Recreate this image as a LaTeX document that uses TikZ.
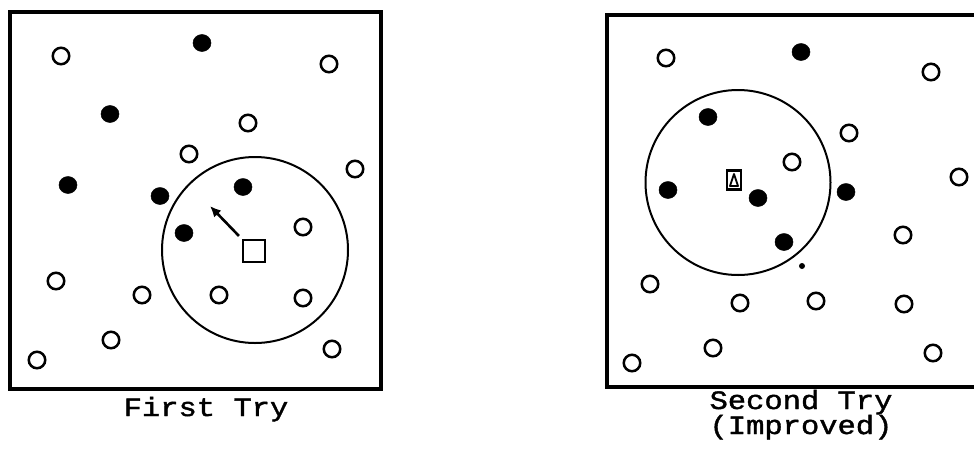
\documentclass[tikz,border=0pt]{standalone}
\usepackage{fontspec}
\newfontfamily\courfont[FakeStretch=1.15,FakeBold=1.5]{Liberation Mono}
\usetikzlibrary{arrows.meta}
\tikzset{
  openc/.style={circle, draw=black, line width=2.5pt, minimum size=16.5pt, inner sep=0pt, fill=none},
  fillc/.style={ellipse, fill=black, draw=black, line width=0.5pt, minimum width=18pt, minimum height=17pt, inner sep=0pt},
  panel/.style={draw=black, line width=4pt},
  ring/.style={draw=black, line width=2pt},
  lbl/.style={font=\courfont\fontsize{26.5}{25}\selectfont, anchor=base, inner sep=0pt, align=center},
}
\usetikzlibrary{shapes.geometric}
\begin{document}
\begin{tikzpicture}[x=1pt,y=-1pt]
\useasboundingbox (0,0) rectangle (974,453);
\fill[white] (0,0) rectangle (974,453);
% ---------- left panel ----------
\draw[panel] (10,12) rectangle (381,389);
\draw[ring] (255,250) circle[radius=93];
\node[openc] (l1) at (61,56) {};
\node[fillc] (l2) at (202,43) {};
\node[openc] (l3) at (329,64) {};
\node[fillc] (l4) at (110,114) {};
\node[openc] (l5) at (248,123) {};
\node[openc] (l6) at (189,154) {};
\node[openc] (l7) at (355,169) {};
\node[fillc] (l8) at (68,185) {};
\node[fillc] (l9) at (160,196) {};
\node[fillc] (l10) at (243,187) {};
\node[fillc] (l11) at (184,233) {};
\node[openc] (l12) at (303,227) {};
\node[openc] (l13) at (56,281) {};
\node[openc] (l14) at (142,295) {};
\node[openc] (l15) at (219,295) {};
\node[openc] (l16) at (303,298) {};
\node[openc] (l17) at (111,340) {};
\node[openc] (l18) at (37,360) {};
\node[openc] (l19) at (332,349) {};
\node[draw=black, line width=2.2pt, minimum size=22pt, inner sep=0pt] (lsq) at (254,251) {};
\coordinate (ltip) at (210,206);
\draw[line width=2.6pt, -{Latex[length=11pt,width=10pt]}] ([shift={(-3,-3)}]lsq.north west) -- (ltip);
\node[lbl] (lab1) at (206,416) {First Try};
% ---------- right panel ----------
\draw[panel] (607,15) rectangle (980,387);
\draw[ring] (738,182.5) circle[radius=92.5];
\node[openc] (r1) at (666,58) {};
\node[fillc] (r2) at (801,52) {};
\node[openc] (r3) at (931,72) {};
\node[fillc] (r4) at (708,117) {};
\node[openc] (r5) at (849,133) {};
\node[openc] (r6) at (792,162) {};
\node[fillc] (r7) at (668,190) {};
\node[fillc] (r8) at (758,198) {};
\node[fillc] (r9) at (846,192) {};
\node[openc] (r10) at (959,177) {};
\node[fillc] (r11) at (784,242) {};
\node[openc] (r12) at (903,235) {};
\node[openc] (r13) at (650,284) {};
\node[openc] (r14) at (740,303) {};
\node[openc] (r15) at (816,301) {};
\node[openc] (r16) at (904,304) {};
\node[openc] (r17) at (713,348) {};
\node[openc] (r18) at (632,363) {};
\node[openc] (r19) at (933,353) {};
\node[draw=black, line width=2.2pt, minimum width=14pt, minimum height=19pt, inner sep=0pt] (rsq) at (734,180) {};
\draw[line width=1.8pt, line join=round] ([shift={(-4,6)}]rsq.center) -- ([shift={(0,-6)}]rsq.center) -- ([shift={(4,6)}]rsq.center) -- cycle;
\fill (802,266) circle[radius=3];
\node[lbl] (lab2) at (801,434) {Second Try\\(Improved)};
\end{tikzpicture}
\end{document}
